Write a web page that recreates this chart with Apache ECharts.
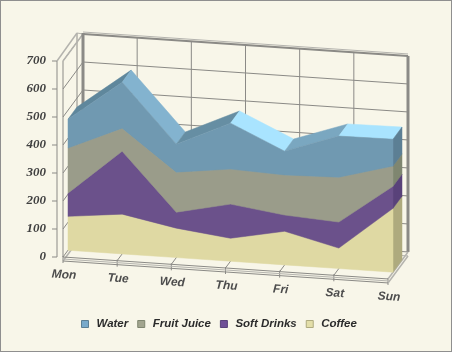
<!DOCTYPE html>
<html>
<head>
<meta charset="utf-8">
<style>
  html, body { margin: 0; padding: 0; background: #f8f6e9; }
  #chart { width: 452px; height: 352px; }
</style>
<script src="https://cdn.jsdelivr.net/npm/echarts@6/dist/echarts.min.js"></script>
</head>
<body>
<div id="chart"></div>
<script>
const days = ['Mon', 'Tue', 'Wed', 'Thu', 'Fri', 'Sat', 'Sun'];
const yTicks = [0, 100, 200, 300, 400, 500, 600, 700];

// bottom layer first
const coffee = [121, 142, 105, 82, 120, 73, 228];
const softDrinks = [83, 225, 57, 122, 58, 93, 79];
const fruitJuice = [161, 82, 143, 125, 143, 160, 72];
const water = [103, 164, 100, 164, 85, 147, 96];

const names = ['Coffee', 'Soft Drinks', 'Fruit Juice', 'Water'];
const layers = [coffee, softDrinks, fruitJuice, water];
const frontColors = ['#dfd9a3', '#6b518b', '#9a9c8a', '#7099b1'];
const sideColors = ['#aeaa7e', '#59427a', '#7f8670', '#5c7f94'];
// the roof of the water layer is lit differently on each stretch
const waterRoof = ['#5f879c', '#83b3cf', '#668ea3', '#a9e4ff', '#7aa7c0', '#a9e4ff'];

// fake 3d: floor runs downhill to the right, depth goes up and to the right
const slope = 0.0675;
const depthX = 20;
const depthY = -27;
const layerFront = 0.25;
const layerBack = 0.7;
const gridColor = '#8b8a86';
const paleColor = '#b4b3ae';

function project(api, cat, val, depth) {
  const p = api.coord([cat, val]);
  const x0 = api.coord([0, 0])[0];
  return [p[0] + depthX * depth, p[1] + slope * (p[0] - x0) + depthY * depth];
}

function shift(p, dx, dy) {
  return [p[0] + dx, p[1] + dy];
}

function seg(a, b, color, width) {
  return {
    type: 'line',
    shape: { x1: a[0], y1: a[1], x2: b[0], y2: b[1] },
    style: { stroke: color, lineWidth: width || 1 },
    silent: true
  };
}

function poly(points, color) {
  return { type: 'polygon', shape: { points: points }, style: { fill: color, stroke: color, lineWidth: 0.5 }, silent: true };
}

function renderWalls(params, api) {
  const kids = [];
  const last = days.length - 1;
  const top = yTicks[yTicks.length - 1];

  yTicks.forEach(v => {
    const front = project(api, 0, v, 0);
    kids.push(seg(shift(front, -11, 0), shift(front, -6, 0), gridColor));
    kids.push(seg(project(api, 0, v, 1), project(api, last, v, 1), gridColor, v === top ? 2 : 1));
    if (v > 0) kids.push(seg(front, project(api, 0, v, 1), gridColor));
  });

  // left wall, two sheets
  const lf0 = project(api, 0, 0, 0), lfT = project(api, 0, top, 0);
  const lb0 = project(api, 0, 0, 1), lbT = project(api, 0, top, 1);
  kids.push(seg(shift(lf0, -6, 0), shift(lfT, -6, 0), gridColor));
  kids.push(seg(lf0, lfT, gridColor));
  kids.push(seg(shift(lbT, -6, -1), shift(lb0, -6, 0), gridColor));
  kids.push(seg(shift(lfT, -6, 0), shift(lbT, -6, -1), paleColor, 1.5));
  kids.push(seg(lfT, lbT, paleColor, 1.5));
  kids.push(seg(shift(lbT, -6, -1), lbT, paleColor));

  // top rail doubled and the thick back corners
  kids.push(seg(shift(lbT, 0, -2), shift(project(api, last, top, 1), 0, -2), paleColor));
  kids.push(seg(shift(lbT, 0, -1), lb0, gridColor, 3));
  kids.push(seg(project(api, last, top, 1), project(api, last, 0, 1), gridColor, 3));

  // floor
  days.forEach((d, i) => {
    const f = project(api, i, 0, 0);
    const b = project(api, i, 0, 1);
    if (i > 0 && i < last) kids.push(seg(b, project(api, i, top, 1), gridColor));
    kids.push(seg(shift(f, 0, -1), shift(f, 0, 6), gridColor));
    kids.push(seg(f, i === 0 || i === last ? b : project(api, i, 0, 0.35), i === last ? paleColor : gridColor, i === last ? 1.5 : 1));
    if (i === last || i === 0) kids.push(seg(shift(f, 0, 4), shift(b, 0, 4), paleColor, 1.5));
    kids.push({
      type: 'text',
      x: f[0] + 1,
      y: f[1] + 18,
      rotation: -0.06,
      style: { text: d, align: 'center', verticalAlign: 'middle', fill: '#4d4d4d', font: 'italic bold 12px "Liberation Sans"' },
      silent: true
    });
  });
  const fl = project(api, 0, 0, 0), fr = project(api, last, 0, 0);
  kids.push(seg(fl, fr, gridColor));
  kids.push(seg(shift(fl, 0, 4), shift(fr, 0, 4), gridColor));
  kids.push(seg(shift(fl, 0, 2), shift(fr, 0, 2), paleColor));
  kids.push(seg(shift(project(api, 0, 0, 1), 0, 4), shift(project(api, last, 0, 1), 0, 4), paleColor));

  return { type: 'group', children: kids };
}

function makeRender(layerIndex) {
  const vals = layers[layerIndex];
  const below = layers.slice(0, layerIndex);
  const stackAt = i => below.reduce((sum, arr) => sum + arr[i], 0);

  return function (params, api) {
    const i = params.dataIndex;
    const last = days.length - 1;
    const kids = [];
    const lo = stackAt(i);
    const hi = lo + vals[i];

    if (i < last) {
      const hi2 = stackAt(i + 1) + vals[i + 1];
      const roof = layerIndex === 3 ? waterRoof[i] : sideColors[layerIndex];
      kids.push(poly([
        project(api, i, hi, layerFront),
        project(api, i + 1, hi2, layerFront),
        project(api, i + 1, hi2, layerBack),
        project(api, i, hi, layerBack)
      ], roof));
    } else {
      // last item draws the side and the whole front face, so no seams between days
      kids.push(poly([
        project(api, i, lo, layerFront),
        project(api, i, lo, layerBack),
        project(api, i, hi, layerBack),
        project(api, i, hi, layerFront)
      ], sideColors[layerIndex]));
      const front = [];
      days.forEach((d, k) => front.push(project(api, k, stackAt(k), layerFront)));
      for (let k = last; k >= 0; k--) front.push(project(api, k, stackAt(k) + vals[k], layerFront));
      kids.push(poly(front, frontColors[layerIndex]));
    }
    return { type: 'group', children: kids };
  };
}

const series = [{
  type: 'custom',
  name: 'walls',
  clip: false,
  silent: true,
  renderItem: (params, api) => params.dataIndex === 0 ? renderWalls(params, api) : null,
  data: days.map((d, i) => [i, 0]),
  encode: { x: 0, y: 1 }
}];

layers.forEach((vals, n) => {
  series.push({
    type: 'custom',
    name: names[n],
    clip: false,
    silent: true,
    itemStyle: { color: frontColors[n] },
    renderItem: makeRender(n),
    data: vals.map((v, i) => [i, v]),
    encode: { x: 0, y: 1 }
  });
});

const chart = echarts.init(document.getElementById('chart'), null, { renderer: 'canvas' });

chart.setOption({
  animation: false,
  backgroundColor: '#f8f6e9',
  grid: { left: 63, top: 61, width: 325, height: 196 },
  xAxis: { type: 'category', data: days, boundaryGap: false, show: false },
  yAxis: {
    type: 'value',
    min: 0,
    max: 700,
    interval: 100,
    axisLine: { show: false },
    axisTick: { show: false },
    splitLine: { show: false },
    axisLabel: {
      margin: 17,
      color: '#404040',
      fontFamily: '"Liberation Serif"',
      fontStyle: 'italic',
      fontWeight: 'bold',
      fontSize: 13,
      padding: [0, 0, 2, 0]
    }
  },
  legend: {
    left: 76,
    top: 313,
    data: [
      { name: 'Water', itemStyle: { color: '#79aacb', borderColor: '#5c7f94', borderWidth: 1 } },
      { name: 'Fruit Juice', itemStyle: { color: '#a2a58f', borderColor: '#7f8670', borderWidth: 1 } },
      { name: 'Soft Drinks', itemStyle: { color: '#6f4f96', borderColor: '#59427a', borderWidth: 1 } },
      { name: 'Coffee', itemStyle: { color: '#e3dea8', borderColor: '#aeaa7e', borderWidth: 1 } }
    ],
    icon: 'rect',
    itemWidth: 7,
    itemHeight: 7,
    itemGap: 9,
    selectedMode: false,
    textStyle: {
      color: '#2b2b2b',
      fontFamily: '"Liberation Sans"',
      fontStyle: 'italic',
      fontWeight: 'bold',
      fontSize: 11.5,
      padding: [0, 0, 0, 3]
    }
  },
  graphic: [{
    type: 'rect',
    silent: true,
    z: 100,
    shape: { x: 0, y: 0, width: 452, height: 352 },
    style: { fill: 'none', stroke: '#8f8f8f', lineWidth: 2 }
  }],
  series: series
});
</script>
</body>
</html>
